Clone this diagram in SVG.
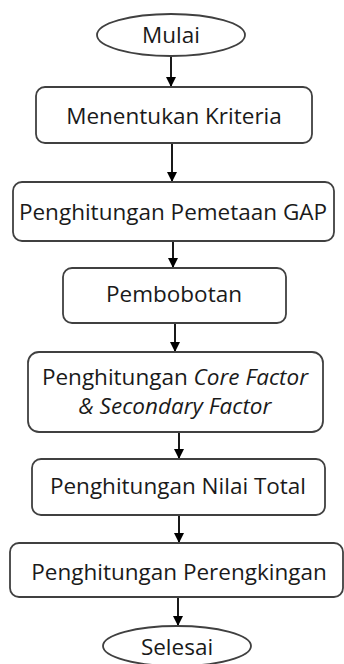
<svg xmlns="http://www.w3.org/2000/svg" width="344" height="664" viewBox="0 0 344 664">
<defs>
<style>
.box{fill:#fff;stroke:#404040;stroke-width:1.8}
.t{font-family:"Open Sans","Liberation Sans",sans-serif;font-size:22.5px;fill:#1a1a1a;text-anchor:middle}
.i{font-style:italic}
.c{stroke:#000;stroke-width:1.8;fill:none}
</style>
<marker id="ah" markerWidth="10" markerHeight="10" refX="9" refY="5" orient="auto" markerUnits="userSpaceOnUse">
<path d="M0,0 L10,5 L0,10 Z" fill="#000"/>
</marker>
</defs>
<rect width="344" height="664" fill="#fff"/>
<g id="connectors">
<line class="c" x1="171" y1="56" x2="171" y2="86" marker-end="url(#ah)"/>
<line class="c" x1="172" y1="143" x2="172" y2="181" marker-end="url(#ah)"/>
<line class="c" x1="173" y1="241" x2="173" y2="267" marker-end="url(#ah)"/>
<line class="c" x1="175" y1="323" x2="175" y2="351" marker-end="url(#ah)"/>
<line class="c" x1="179" y1="432" x2="179" y2="458" marker-end="url(#ah)"/>
<line class="c" x1="179" y1="515" x2="179" y2="542" marker-end="url(#ah)"/>
<line class="c" x1="178" y1="597" x2="178" y2="625" marker-end="url(#ah)"/>
</g>
<g id="mulai">
<ellipse class="box" cx="171" cy="35" rx="74" ry="21"/>
<text class="t" x="171" y="43">Mulai</text>
</g>
<g id="menentukan-kriteria">
<rect class="box" x="36" y="87" width="276" height="56" rx="9"/>
<text class="t" x="174" y="124">Menentukan Kriteria</text>
</g>
<g id="pemetaan-gap">
<rect class="box" x="13" y="182" width="321" height="59" rx="9"/>
<text class="t" x="173" y="220">Penghitungan Pemetaan GAP</text>
</g>
<g id="pembobotan">
<rect class="box" x="63" y="268" width="223" height="55" rx="9"/>
<text class="t" x="174" y="302">Pembobotan</text>
</g>
<g id="core-secondary">
<rect class="box" x="28" y="352" width="295" height="80" rx="11"/>
<text class="t" x="175" y="385">Penghitungan <tspan class="i">Core Factor</tspan></text>
<text class="t i" x="175" y="414">&amp; Secondary Factor</text>
</g>
<g id="nilai-total">
<rect class="box" x="32" y="459" width="293" height="56" rx="9"/>
<text class="t" x="178" y="494">Penghitungan Nilai Total</text>
</g>
<g id="perengkingan">
<rect class="box" x="10" y="543" width="333" height="54" rx="9"/>
<text class="t" x="179" y="580">Penghitungan Perengkingan</text>
</g>
<g id="selesai">
<ellipse class="box" cx="177" cy="646" rx="74" ry="20"/>
<text class="t" x="177" y="655">Selesai</text>
</g>
</svg>
